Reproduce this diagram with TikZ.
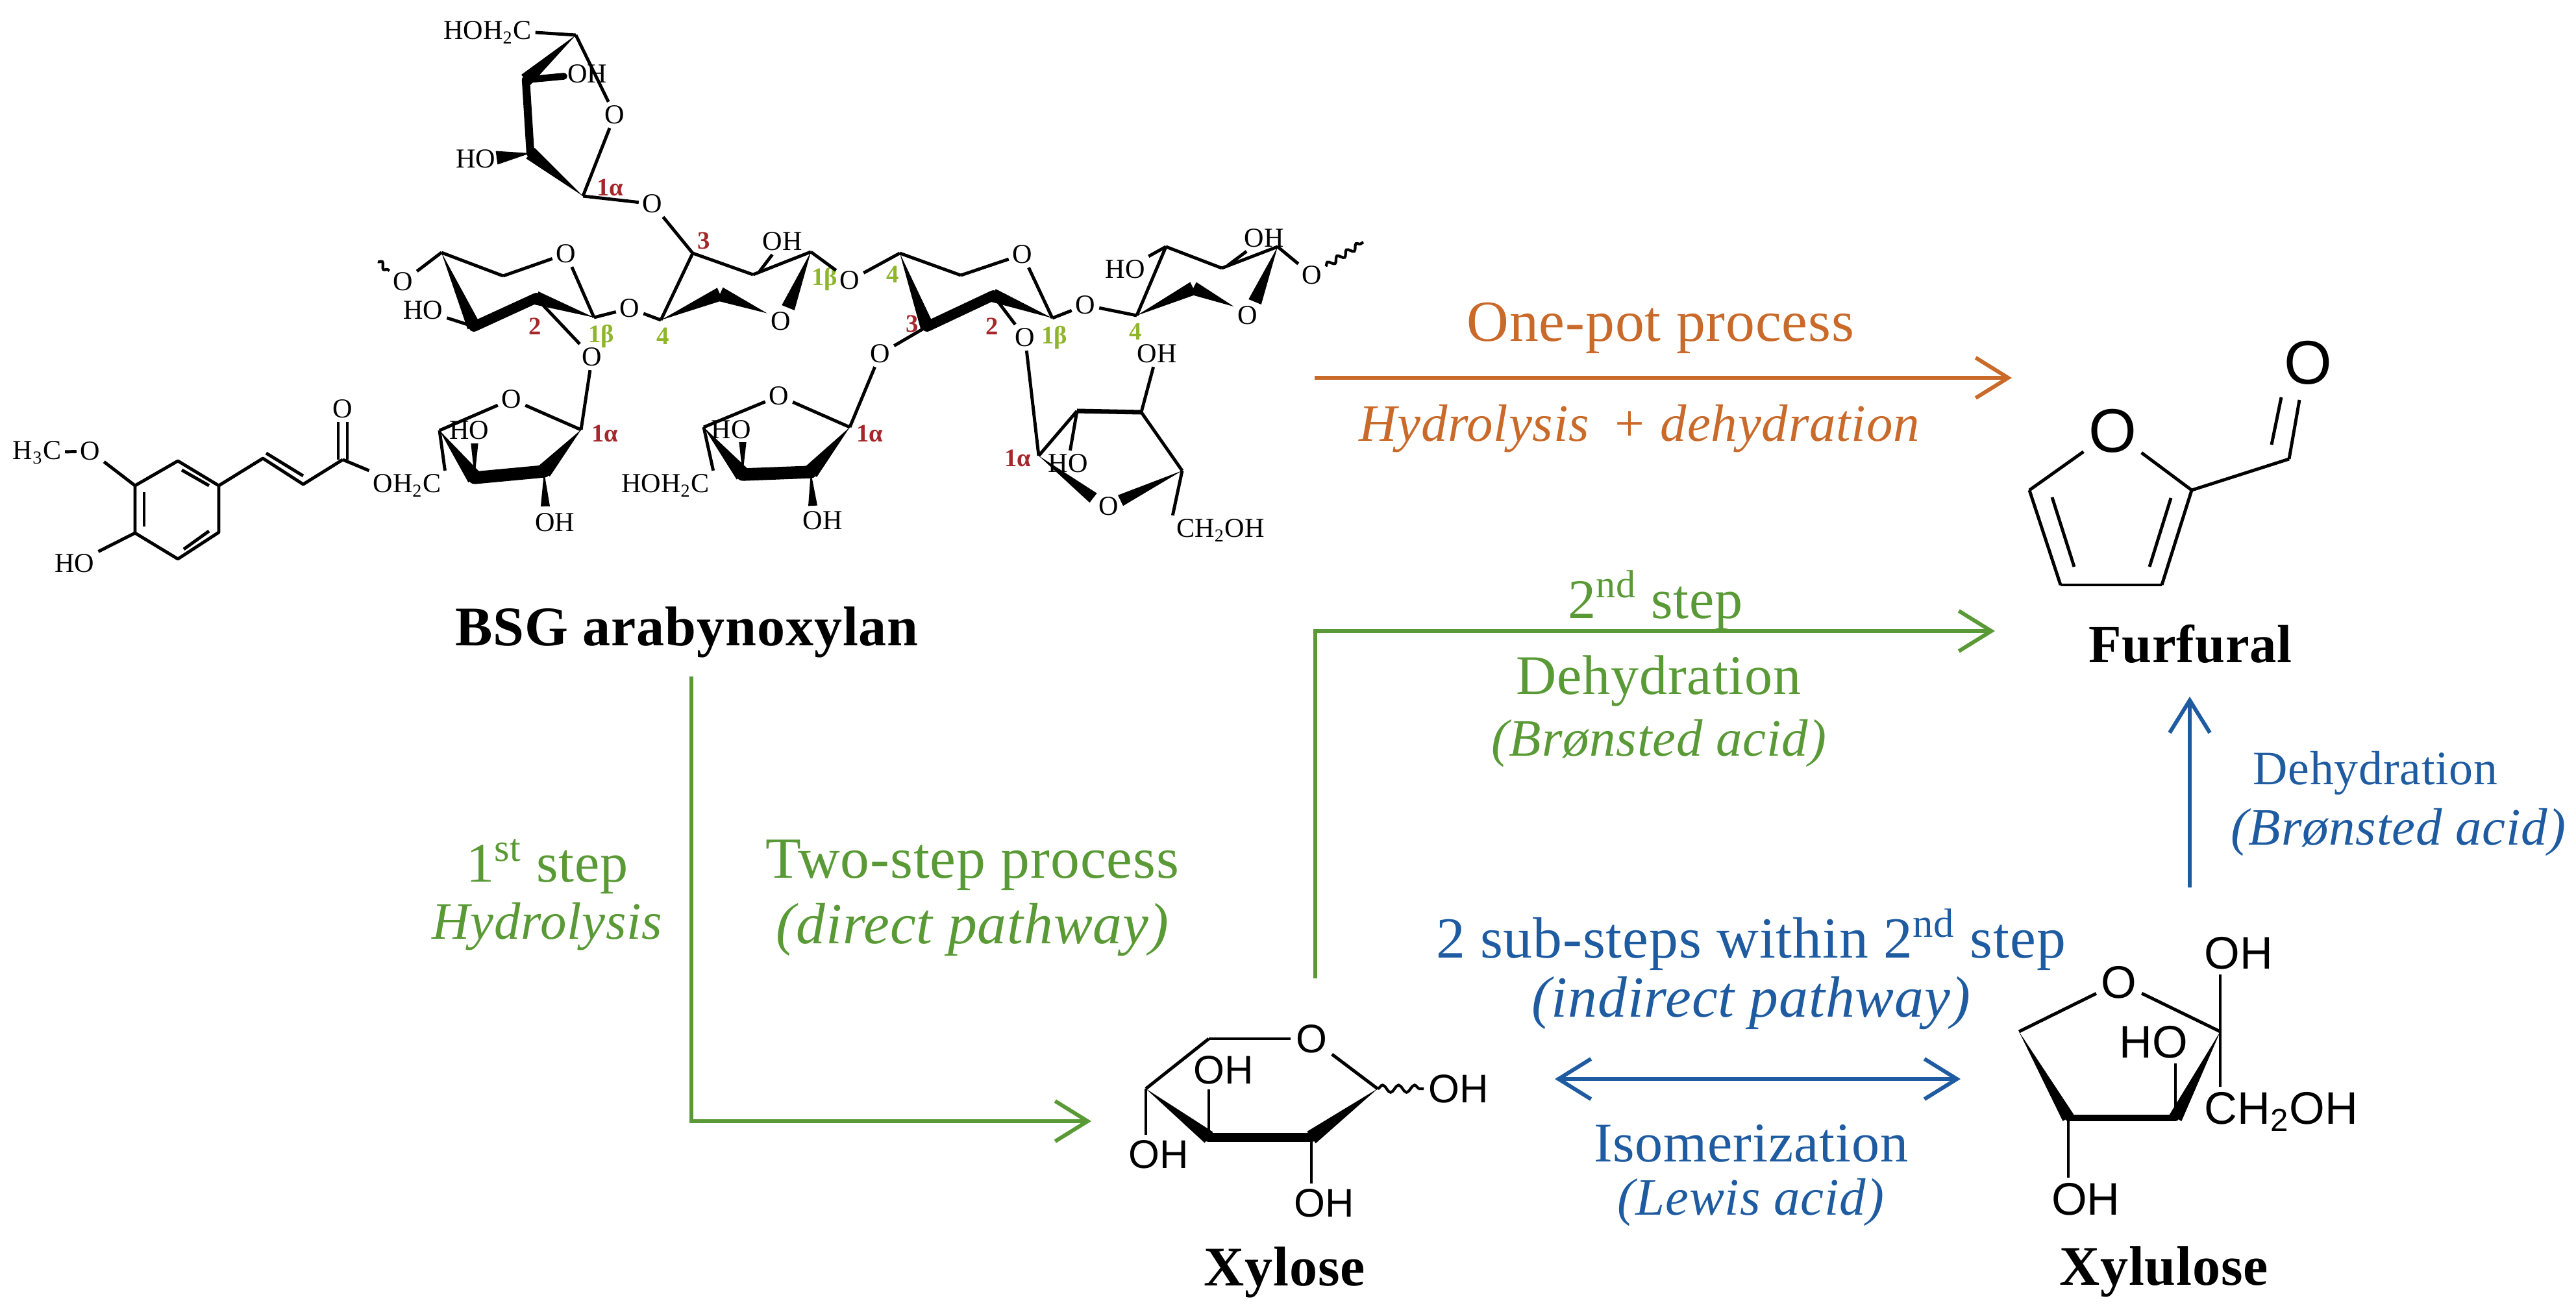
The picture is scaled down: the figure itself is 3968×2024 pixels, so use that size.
\documentclass[tikz,border=0pt]{standalone}
\usepackage{fontspec}
\setmainfont{Liberation Serif}[LetterSpace=1]
\newfontfamily\chemfont{Liberation Sans}
\newfontfamily\bluefont{Liberation Serif}
\usetikzlibrary{arrows.meta}
\usetikzlibrary{calc}
\usetikzlibrary{decorations.pathmorphing}
\definecolor{potorange}{HTML}{C96A2B}
\definecolor{stepgreen}{HTML}{5A9A36}
\definecolor{subblue}{HTML}{1E5BA0}
\definecolor{posred}{HTML}{A5262B}
\definecolor{poslime}{HTML}{8FB52C}
\newcommand{\Wedge}[3]{\fill (#1) -- ($(#2)!#3!90:(#1)$) -- ($(#2)!#3!-90:(#1)$) -- cycle;}

\begin{document}
\begin{tikzpicture}[x = 0.01cm, y = -0.01cm]
\tikzstyle{Big}=[inner sep = 0pt, yshift = -2pt, font = \fontsize{25.5}{30}\selectfont]
\tikzstyle{Mid}=[Big, font = \fontsize{24.5}{30}\selectfont]
\tikzstyle{Small}=[Big, font = \fontsize{23}{28}\selectfont\itshape]
\tikzstyle{Tiny}=[Big, font = \fontsize{21}{26}\selectfont]
\tikzstyle{Name}=[Big, font = \fontsize{24.5}{30}\selectfont\bfseries]
\tikzstyle{Atom}=[inner sep = 1.5pt, font = \bluefont\fontsize{12}{14}\selectfont]
\tikzstyle{Sans}=[inner sep = 2pt, font = \chemfont\fontsize{17.5}{20}\selectfont]
\tikzstyle{SansBig}=[inner sep = 2pt, font = \chemfont\fontsize{20}{24}\selectfont]
\tikzstyle{SansHuge}=[inner sep = 2pt, font = \chemfont\fontsize{27}{30}\selectfont]
\tikzstyle{PosRed}=[inner sep = 0pt, text = posred, font = \bluefont\bfseries\fontsize{11}{13}\selectfont]
\tikzstyle{PosLime}=[inner sep = 0pt, text = poslime, font = \bluefont\bfseries\fontsize{11}{13}\selectfont]
\tikzstyle{Bond}=[line width = 1.4pt, line join = round]
\tikzstyle{Bold}=[line width = 4pt, line cap = round]
\tikzstyle{Squiggle}=[line width = 1.2pt, decorate, decoration = {snake, amplitude = 1.2pt, segment length = 5pt}]
\tikzstyle{Arrow}=[line width = 1.7pt, -{Straight Barb[length = 0.5cm, width = 0.62cm]}]
\tikzstyle{BothArrow}=[line width = 1.7pt, {Straight Barb[length = 0.5cm, width = 0.62cm]}-{Straight Barb[length = 0.5cm, width = 0.62cm]}]
\useasboundingbox (0, 0) rectangle (3968, 2024);
% top ring
\coordinate (a1) at (887, 54);
\coordinate (a2) at (810, 123);
\coordinate (a3) at (817, 236);
\coordinate (a4) at (898, 302);
\coordinate (a5) at (765, 243);
\node[Atom] (aO) at (947, 177) {O};
\node[Atom] (aL) at (1005, 314) {O};
\node[Atom] (aH) at (751, 50) {HOH\textsubscript{2}C};
\node[Atom] (aOH) at (905, 114) {OH};
\node[Atom] (aHO) at (733, 245) {HO};
\node[PosRed] (aP) at (940, 289) {1α};
\draw[Bond] (aH.east) -- (a1);
\draw[Bond] (a1) -- (aO);
\draw[Bond] (aO) -- (a4);
\draw[Bond] (a4) -- (aL);
\draw[Bold, line width = 3pt] (a2) -- (aOH);
\draw[Bold, line width = 3.5pt] (a2) -- (a3);
\Wedge{a1}{a2}{3pt}
\Wedge{a4}{a3}{3pt}
\Wedge{a3}{a5}{3pt}
% first xylan ring
\coordinate (b0) at (582, 403);
\coordinate (b1) at (680, 389);
\coordinate (b2) at (775, 425);
\coordinate (b3) at (730, 503);
\coordinate (b4) at (826, 459);
\coordinate (b5) at (915, 489);
\node[Atom] (bT) at (621, 434) {O};
\node[Atom] (bO) at (872, 391) {O};
\node[Atom] (bHO) at (652, 478) {HO};
\node[Atom] (bD) at (912, 550) {O};
\node[Atom] (bL) at (970, 475) {O};
\node[PosRed] (bP) at (824, 503) {2};
\node[PosLime] (bQ) at (926, 518) {1β};
\draw[Squiggle] (b0) -- (bT);
\draw[Bond] (bT) -- (b1);
\draw[Bond] (b1) -- (b2);
\draw[Bond] (b2) -- (bO);
\draw[Bond] (bO) -- (b5);
\draw[Bond] (bHO) -- (b3);
\draw[Bond] (b4) -- (bD);
\draw[Bond] (b5) -- (bL);
\draw[Bold, line width = 4.5pt] (b3) -- (b4);
\Wedge{b1}{b3}{3pt}
\Wedge{b5}{b4}{3pt}
% second xylan ring
\coordinate (c1) at (1018, 493);
\coordinate (c2) at (1067, 390);
\coordinate (c3) at (1160, 423);
\coordinate (c4) at (1249, 388);
\coordinate (c5) at (1109, 453);
\coordinate (c6) at (1170, 418);
\coordinate (c7) at (1214, 474);
\node[Atom] (cO) at (1203, 495) {O};
\node[Atom] (cOH) at (1205, 372) {OH};
\node[Atom] (cL) at (1309, 432) {O};
\node[PosRed] (cP) at (1084, 371) {3};
\node[PosLime] (cQ) at (1021, 518) {4};
\node[PosLime] (cR) at (1270, 430) {1β};
\draw[Bond] (bL) -- (c1);
\draw[Bond] (aL) -- (c2);
\draw[Bond] (c1) -- (c2);
\draw[Bond] (c2) -- (c3);
\draw[Bond] (c3) -- (c4);
\draw[Bond] (c6) -- (cOH);
\draw[Bond] (c4) -- (cL);
\Wedge{c1}{c5}{3pt}
\Wedge{cO}{c5}{3.2pt}
\Wedge{c4}{c7}{3pt}
% third xylan ring
\coordinate (d1) at (1386, 390);
\coordinate (d2) at (1480, 424);
\coordinate (d3) at (1621, 490);
\coordinate (d4) at (1530, 455);
\coordinate (d5) at (1428, 503);
\node[Atom] (dO) at (1575, 392) {O};
\node[Atom] (dD) at (1579, 520) {O};
\node[Atom] (dE) at (1356, 545) {O};
\node[PosRed] (dP) at (1405, 499) {3};
\node[PosRed] (dQ) at (1528, 503) {2};
\node[PosLime] (dR) at (1624, 520) {1β};
\node[PosLime] (dS) at (1375, 423) {4};
\draw[Bond] (cL) -- (d1);
\draw[Bond] (d1) -- (d2);
\draw[Bond] (d2) -- (dO);
\draw[Bond] (dO) -- (d3);
\draw[Bond] (d4) -- (dD);
\draw[Bond] (d5) -- (dE);
\draw[Bold, line width = 4.5pt] (d5) -- (d4);
\Wedge{d1}{d5}{3pt}
\Wedge{d3}{d4}{3pt}
% fourth xylan ring
\coordinate (e1) at (1751, 486);
\coordinate (e2) at (1796, 380);
\coordinate (e3) at (1882, 413);
\coordinate (e4) at (1968, 380);
\coordinate (e5) at (1838, 444);
\coordinate (e6) at (1891, 409);
\coordinate (e7) at (1933, 465);
\coordinate (e8) at (2100, 373);
\node[Atom] (eL) at (1672, 470) {O};
\node[Atom] (eO) at (1922, 486) {O};
\node[Atom] (eHO) at (1733, 415) {HO};
\node[Atom] (eOH) at (1947, 367) {OH};
\node[Atom] (eT) at (2021, 424) {O};
\node[PosLime] (eP) at (1749, 511) {4};
\draw[Bond] (d3) -- (eL);
\draw[Bond] (eL) -- (e1);
\draw[Bond] (e1) -- (e2);
\draw[Bond] (e2) -- (e3);
\draw[Bond] (e3) -- (e4);
\draw[Bond] (e2) -- (eHO);
\draw[Bond] (e6) -- (eOH);
\draw[Bond] (e4) -- (eT);
\draw[Squiggle] (eT) -- (e8);
\Wedge{e1}{e5}{3pt}
\Wedge{eO}{e5}{3pt}
\Wedge{e4}{e7}{3pt}
% arabinose under the third ring
\coordinate (g1) at (1309, 658);
\coordinate (g2) at (1249, 727);
\coordinate (g3) at (1144, 731);
\coordinate (g4) at (1084, 658);
\coordinate (g5) at (1144, 681);
\coordinate (g6) at (1252, 779);
\node[Atom] (gO) at (1200, 610) {O};
\node[Atom] (gHO) at (1126, 662) {HO};
\node[Atom] (gOH) at (1267, 802) {OH};
\node[Atom] (gH) at (1025, 748) {HOH\textsubscript{2}C};
\node[PosRed] (gP) at (1340, 668) {1α};
\draw[Bond] (dE) -- (g1);
\draw[Bond] (g1) -- (gO);
\draw[Bond] (gO) -- (g4);
\draw[Bond] (g4) -- (gH.north east);
\draw[Bold, line width = 5.5pt] (g2) -- (g3);
\Wedge{g1}{g2}{3.4pt}
\Wedge{g4}{g3}{3.4pt}
\Wedge{g3}{g5}{1.6pt}
\Wedge{g2}{g6}{2pt}
% arabinose under the fourth ring
\coordinate (h1) at (1600, 702);
\coordinate (h2) at (1659, 633);
\coordinate (h3) at (1758, 635);
\coordinate (h4) at (1821, 725);
\coordinate (h5) at (1684, 767);
\coordinate (h6) at (1726, 771);
\node[Atom] (hO) at (1708, 780) {O};
\node[Atom] (hHO) at (1645, 714) {HO};
\node[Atom] (hOH) at (1782, 545) {OH};
\node[Atom] (hC) at (1880, 817) {CH\textsubscript{2}OH};
\node[PosRed] (hP) at (1568, 706) {1α};
\draw[Bond] (dD) -- (h1);
\draw[Bond] (h1) -- (h2);
\draw[Bond, line width = 2pt] (h2) -- (h3);
\draw[Bond] (h3) -- (h4);
\draw[Bond] (h3) -- (hOH);
\draw[Bond] (h2) -- (hHO);
\draw[Bond] (h4) -- (hC.north west);
\Wedge{h1}{h5}{2.6pt}
\Wedge{h4}{h6}{2.6pt}
% ferulate and the ring it carries
\coordinate (k1) at (208, 748);
\coordinate (k2) at (274, 710);
\coordinate (k3) at (337, 748);
\coordinate (k4) at (337, 820);
\coordinate (k5) at (274, 861);
\coordinate (k6) at (208, 821);
\coordinate (k7) at (405, 706);
\coordinate (k8) at (467, 746);
\coordinate (k9) at (528, 708);
\coordinate (k10) at (222, 758);
\coordinate (k11) at (222, 811);
\coordinate (k12) at (280, 724);
\coordinate (k13) at (322, 748);
\coordinate (k14) at (283, 846);
\coordinate (k15) at (322, 818);
\coordinate (k16) at (410, 698);
\coordinate (k17) at (467, 733);
\coordinate (k18) at (521, 708);
\coordinate (k19) at (535, 708);
\node[Atom] (kM) at (57, 697) {H\textsubscript{3}C};
\node[Atom] (kO) at (139, 695) {O};
\node[Atom] (kHO) at (115, 868) {HO};
\node[Atom] (kD) at (528, 630) {O};
\node[Atom] (kH) at (627, 748) {OH\textsubscript{2}C};
\draw[Bond] (kM) -- (kO);
\draw[Bond] (kO) -- (k1);
\draw[Bond] (k1) -- (k2) -- (k3) -- (k4) -- (k5) -- (k6) -- (k1);
\draw[Bond] (k10) -- (k11);
\draw[Bond] (k12) -- (k13);
\draw[Bond] (k14) -- (k15);
\draw[Bond] (k6) -- (kHO);
\draw[Bond] (k3) -- (k7) -- (k8) -- (k9);
\draw[Bond] (k16) -- (k17);
\draw[Bond] (k18) -- (k18 |- kD.south);
\draw[Bond] (k19) -- (k19 |- kD.south);
\draw[Bond] (k9) -- (kH.north west);
\coordinate (m1) at (677, 663);
\coordinate (m2) at (895, 662);
\coordinate (m3) at (838, 726);
\coordinate (m4) at (731, 736);
\coordinate (m5) at (731, 683);
\coordinate (m6) at (840, 780);
\node[Atom] (mO) at (788, 615) {O};
\node[Atom] (mHO) at (723, 663) {HO};
\node[Atom] (mOH) at (855, 805) {OH};
\node[PosRed] (mP) at (932, 668) {1α};
\draw[Bond] (bD) -- (m2);
\draw[Bond] (m2) -- (mO);
\draw[Bond] (mO) -- (m1);
\draw[Bond] (m1) -- (kH.north east);
\draw[Bold, line width = 5.5pt] (m3) -- (m4);
\Wedge{m2}{m3}{3.4pt}
\Wedge{m1}{m4}{3.4pt}
\Wedge{m4}{m5}{1.6pt}
\Wedge{m3}{m6}{2pt}
% furfural
\coordinate (f1) at (3376, 755);
\coordinate (f2) at (3330, 901);
\coordinate (f3) at (3174, 901);
\coordinate (f4) at (3126, 755);
\coordinate (f5) at (3526, 707);
\coordinate (f6) at (3161, 766);
\coordinate (f7) at (3195, 873);
\coordinate (f8) at (3344, 767);
\coordinate (f9) at (3311, 873);
\coordinate (f10) at (3514, 612);
\coordinate (f11) at (3499, 685);
\coordinate (f12) at (3542, 616);
\node[SansHuge] (fO) at (3254, 664) {O};
\node[SansHuge] (fD) at (3555, 559) {O};
\node[Name, font = \fontsize{23.5}{28}\selectfont\bfseries] (fN) at (3374, 985) {Furfural};
\draw[Bond] (fO) -- (f1);
\draw[Bond] (f1) -- (f2);
\draw[Bond] (f2) -- (f3);
\draw[Bond] (f3) -- (f4);
\draw[Bond] (f4) -- (fO);
\draw[Bond] (f1) -- (f5);
\draw[Bond] (f5) -- (f12);
\draw[Bond] (f10) -- (f11);
\draw[Bond] (f6) -- (f7);
\draw[Bond] (f8) -- (f9);
% xylose
\coordinate (x1) at (1862, 1600);
\coordinate (x2) at (1765, 1677);
\coordinate (x3) at (1862, 1752);
\coordinate (x4) at (2020, 1752);
\coordinate (x5) at (2122, 1677);
\node[Sans] (xO) at (2020, 1600) {O};
\node[Sans] (xA) at (1885, 1648) {OH};
\node[Sans] (xB) at (1785, 1778) {OH};
\node[Sans] (xC) at (2040, 1853) {OH};
\node[Sans] (xD) at (2247, 1677) {OH};
\node[Name] (xN) at (1979, 1953) {Xylose};
\draw[Bond] (x1) -- (xO);
\draw[Bond] (xO) -- (x5);
\draw[Bond] (x1) -- (x2);
\draw[Bond] (x2) -- (x2 |- xB.north);
\draw[Bond] (x3) -- (x3 |- xA.south);
\draw[Bond] (x4) -- (x4 |- xC.north);
\draw[Squiggle, decoration = {snake, amplitude = 1.6pt, segment length = 7pt}] (x5) -- (xD);
\draw[Bold, line width = 4.2pt] (x3) -- (x4);
\Wedge{x2}{x3}{3pt}
\Wedge{x5}{x4}{3.2pt}
% xylulose
\coordinate (y1) at (3110, 1589);
\coordinate (y2) at (3420, 1589);
\coordinate (y3) at (3351, 1722);
\coordinate (y4) at (3186, 1722);
\node[SansBig] (yO) at (3264, 1513) {O};
\node[SansBig] (yA) at (3448, 1468) {OH};
\node[SansBig] (yB) at (3317, 1605) {HO};
\node[SansBig] (yC) at (3514, 1712) {CH\textsubscript{2}OH};
\node[SansBig] (yD) at (3213, 1847) {OH};
\node[Name] (yN) at (3333, 1952) {Xylulose};
\draw[Bond] (y1) -- (yO);
\draw[Bond] (yO) -- (y2);
\draw[Bond] (y2) -- (y2 |- yA.south);
\draw[Bond] (y2) -- (y2 |- yC.north);
\draw[Bond] (y3) -- (y3 |- yB.south);
\draw[Bond] (y4) -- (y4 |- yD.north);
\draw[Bold, line width = 3pt] (y3) -- (y4);
\Wedge{y1}{y4}{2.8pt}
\Wedge{y2}{y3}{3pt}
% names and process labels
\node[Name] (bsg) at (1058, 967) {BSG arabynoxylan};
\node[Big, text = potorange] (pot1) at (2558, 498) {One-pot process};
\node[Small, text = potorange] (pot2) at (2525, 653) {Hydrolysis\, + dehydration};
\node[Mid, text = stepgreen] (sec1) at (2550, 918) {2\textsuperscript{nd} step};
\node[Mid, text = stepgreen] (sec2) at (2555, 1042) {Dehydration};
\node[Small, text = stepgreen] (sec3) at (2555, 1138) {(Brønsted acid)};
\node[Mid, text = stepgreen] (fir1) at (843, 1328) {1\textsuperscript{st} step};
\node[Small, text = stepgreen] (fir2) at (843, 1420) {Hydrolysis};
\node[Big, text = stepgreen] (two1) at (1498, 1326) {Two-step process};
\node[Big, text = stepgreen, font = \fontsize{25.5}{30}\selectfont\itshape] (two2) at (1498, 1425) {(direct pathway)};
\node[Big, text = subblue] (sub1) at (2697, 1440) {2 sub-steps within 2\textsuperscript{nd} step};
\node[Big, text = subblue, font = \fontsize{25.5}{30}\selectfont\itshape] (sub2) at (2697, 1538) {(indirect pathway)};
\node[Mid, text = subblue] (iso1) at (2697, 1754) {Isomerization};
\node[Small, text = subblue] (iso2) at (2697, 1845) {(Lewis acid)};
\node[Tiny, text = subblue] (deh1) at (3659, 1184) {Dehydration};
\node[Small, text = subblue] (deh2) at (3694, 1275) {(Brønsted acid)};
% arrows
\coordinate (s1) at (2025, 582);
\coordinate (s2) at (3099, 582);
\coordinate (s3) at (2026, 1507);
\coordinate (s4) at (3073, 972);
\coordinate (s5) at (1065, 1042);
\coordinate (s6) at (1681, 1727);
\coordinate (s7) at (2395, 1662);
\coordinate (s8) at (3020, 1662);
\coordinate (s9) at (3373, 1367);
\coordinate (s10) at (3373, 1073);
\draw[Arrow, potorange] (s1) -- (s2);
\draw[Arrow, stepgreen] (s3) |- (s4);
\draw[Arrow, stepgreen] (s5) |- (s6);
\draw[BothArrow, subblue] (s7) -- (s8);
\draw[Arrow, subblue] (s9) -- (s10);
\end{tikzpicture}
\end{document}
